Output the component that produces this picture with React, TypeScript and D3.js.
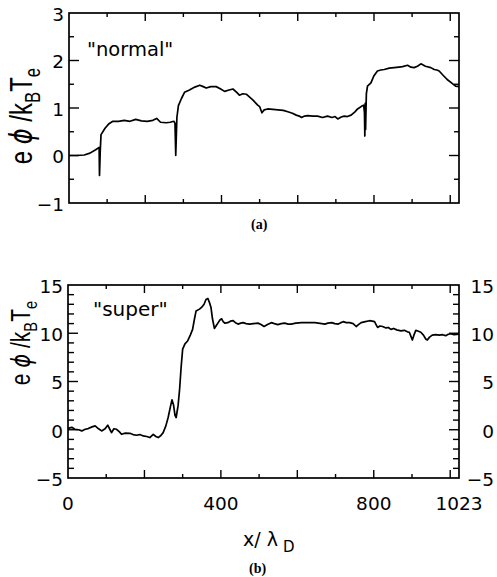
import React from 'react';
import * as d3 from 'd3';

// ---- data ----
const normalX = [0, 20, 40, 55, 70, 79, 80, 82, 84, 95, 105, 115, 130, 145, 160, 175, 190, 205, 220, 230, 240, 255, 265, 275, 278, 280, 283, 287, 295, 303, 316, 330, 343, 352, 360, 372, 386, 398, 408, 420, 430, 440, 447, 456, 465, 482, 495, 500, 506, 512, 521, 535, 548, 562, 574, 586, 596, 604, 610, 618, 626, 640, 652, 665, 678, 690, 698, 705, 714, 722, 730, 740, 750, 757, 768, 773, 775, 776, 777, 778, 780, 783, 792, 800, 809, 818, 827, 840, 853, 865, 875, 888, 897, 905, 914, 923, 935, 949, 958, 965, 971, 980, 992, 1005, 1014, 1023];
const normalY = [0, 0, 0.01, 0.05, 0.12, 0.17, -0.42, 0.1, 0.44, 0.58, 0.67, 0.72, 0.72, 0.74, 0.72, 0.76, 0.73, 0.72, 0.74, 0.78, 0.7, 0.69, 0.7, 0.72, 0.68, 0.0, 0.8, 1.05, 1.2, 1.33, 1.38, 1.44, 1.48, 1.45, 1.42, 1.45, 1.45, 1.4, 1.35, 1.38, 1.4, 1.33, 1.27, 1.3, 1.29, 1.17, 1.06, 1.03, 0.9, 0.96, 0.98, 0.97, 0.96, 0.95, 0.92, 0.89, 0.85, 0.83, 0.8, 0.83, 0.84, 0.83, 0.83, 0.8, 0.83, 0.8, 0.82, 0.77, 0.81, 0.83, 0.82, 0.85, 0.92, 0.98, 1.04, 1.06, 0.9, 0.41, 1.1, 0.55, 1.3, 1.46, 1.53, 1.68, 1.78, 1.8, 1.81, 1.84, 1.85, 1.86, 1.87, 1.9, 1.86, 1.85, 1.88, 1.93, 1.88, 1.85, 1.81, 1.8, 1.78, 1.7, 1.6, 1.52, 1.46, 1.45];

const superX = [0, 10, 18, 28, 36, 45, 53, 63, 71, 80, 88, 97, 104, 110, 114, 120, 127, 134, 140, 150, 162, 170, 179, 188, 197, 206, 214, 223, 230, 236, 243, 249, 256, 262, 268, 272, 276, 280, 283, 288, 292, 296, 300, 306, 313, 320, 326, 331, 335, 344, 350, 356, 361, 366, 370, 374, 378, 383, 388, 393, 398, 402, 406, 410, 418, 425, 432, 438, 445, 452, 458, 466, 475, 485, 497, 505, 513, 522, 532, 540, 549, 558, 567, 576, 584, 596, 611, 625, 635, 646, 655, 664, 672, 680, 690, 698, 707, 714, 720, 728, 737, 746, 754, 760, 767, 778, 789, 796, 802, 806, 810, 816, 823, 832, 838, 845, 852, 860, 871, 880, 888, 893, 897, 901, 905, 910, 917, 923, 930, 936, 940, 946, 953, 962, 971, 980, 988, 995, 1001, 1010, 1023];
const superY = [0.15, 0.25, 0.05, 0.0, -0.12, 0.05, 0.12, 0.3, 0.4, 0.1, -0.12, 0.1, 0.47, 0.0, -0.3, 0.1, 0.05, -0.2, -0.47, -0.35, -0.37, -0.5, -0.57, -0.5, -0.64, -0.7, -0.81, -0.47, -0.7, -0.81, -0.6, -0.3, 0.4, 1.27, 2.4, 3.1, 2.6, 1.5, 1.27, 2.5, 4.2, 6.5, 8.36, 8.9, 9.2, 9.8, 10.4, 11.5, 12.3, 12.5, 12.7, 13.0, 13.5, 13.6, 13.2, 12.7, 11.5, 10.5, 10.8, 11.1, 11.4, 11.5, 11.2, 11.05, 11.1, 11.25, 11.3, 11.1, 10.95, 11.05, 11.1, 11.0, 10.95, 11.0, 11.05, 10.9, 10.7, 10.9, 11.1, 11.0, 10.9, 11.0, 11.05, 10.95, 10.95, 11.05, 11.1, 11.1, 11.1, 11.1, 11.05, 11.0, 10.95, 11.05, 11.1, 11.0, 10.95, 11.1, 11.2, 11.1, 11.1, 11.0, 10.7, 10.9, 11.1, 11.2, 11.3, 11.25, 11.2, 10.9, 10.6, 10.75, 10.7, 10.55, 10.6, 10.4, 10.5, 10.35, 10.25, 10.3, 10.15, 10.1, 9.7, 9.3, 9.8, 10.3, 10.2, 10.1, 9.8, 9.4, 9.3, 9.6, 9.8, 9.85, 9.8, 9.85, 9.75, 9.9, 9.95, 9.85, 9.9];

const topYTickLabels = [3, 2, 1, 0, -1];
const botYTickLabels = [15, 10, 5, 0, -5];
const botXTickLabels = [0, 400, 800, 1023];
const xDomain = [0, 1023];

const SANS = '"DejaVu Sans", sans-serif';
const ARIAL = '"Liberation Sans", Arial, sans-serif';
const SERIF = '"Liberation Serif", "Times New Roman", serif';

const fmt = (v: number) => (v < 0 ? '\u2212' + Math.abs(v) : String(v));

type PanelProps = {
  left: number; right: number; top: number; bottom: number;
  yDomain: [number, number]; yMinor: number; yMajor: number;
  xs: number[]; ys: number[];
  minorLen: number; majorLen: number;
  leftLabels: number[]; rightLabels?: number[]; xLabels?: number[];
};

function Panel(p: PanelProps) {
  const x = d3.scaleLinear().domain(xDomain).range([p.left, p.right]);
  const y = d3.scaleLinear().domain(p.yDomain).range([p.bottom, p.top]);
  const pts = p.xs.map((v, i) => [v, p.ys[i]] as [number, number]);
  const line = d3.line<[number, number]>().x(d => x(d[0])).y(d => y(d[1]));
  const xt = d3.range(100, 1001, 100);
  const yt = d3.range(p.yDomain[0] + p.yMinor, p.yDomain[1] - 1e-6, p.yMinor);
  const isMajorY = (v: number) => Math.abs(v / p.yMajor - Math.round(v / p.yMajor)) < 1e-6;
  return (
    <g>
      <rect x={p.left} y={p.top} width={p.right - p.left} height={p.bottom - p.top}
        fill="none" stroke="#000" strokeWidth={1.7} />
      {xt.map(v => {
        const len = v % 200 === 0 ? 8 : 4;
        return (
          <g key={'x' + v}>
            <line x1={x(v)} x2={x(v)} y1={p.bottom} y2={p.bottom - len} stroke="#000" strokeWidth={1.4} />
            <line x1={x(v)} x2={x(v)} y1={p.top} y2={p.top + len} stroke="#000" strokeWidth={1.4} />
          </g>
        );
      })}
      {yt.map(v => {
        const len = isMajorY(v) ? p.majorLen : p.minorLen;
        return (
          <g key={'y' + v}>
            <line x1={p.left} x2={p.left + len} y1={y(v)} y2={y(v)} stroke="#000" strokeWidth={1.4} />
            <line x1={p.right} x2={p.right - len} y1={y(v)} y2={y(v)} stroke="#000" strokeWidth={1.4} />
          </g>
        );
      })}
      {p.leftLabels.map(v => (
        <text key={'ll' + v} x={p.left - 5} y={y(v)} dy="0.42em" textAnchor="end"
          fontFamily={SANS} fontSize={18.5}>{fmt(v)}</text>
      ))}
      {(p.rightLabels || []).map(v => (
        <text key={'rl' + v} x={494} y={y(v)} dy="0.42em" textAnchor="end"
          fontFamily={SANS} fontSize={18.5}>{fmt(v)}</text>
      ))}
      {(p.xLabels || []).map(v => (
        <text key={'xl' + v} x={x(v)} y={p.bottom + 32} textAnchor="middle"
          fontFamily={SANS} fontSize={18.5}>{fmt(v)}</text>
      ))}
      <path d={line(pts) || ''} fill="none" stroke="#000" strokeWidth={1.7} strokeLinejoin="round" />
    </g>
  );
}

function YLabel({ cx, cy, size }: { cx: number; cy: number; size: number }) {
  const sub = size * 0.7;
  return (
    <text transform={`translate(${cx},${cy}) rotate(-90) scale(1,1.3)`} textAnchor="middle"
      fontFamily={ARIAL} fontSize={size}>
      <tspan>e </tspan>
      <tspan fontFamily={SANS} fontStyle="italic">{'\u03D5'}</tspan>
      <tspan> /k</tspan>
      <tspan fontSize={sub} dy={size * 0.25}>B</tspan>
      <tspan dy={-size * 0.25}>T</tspan>
      <tspan fontSize={sub} dy={size * 0.25}>e</tspan>
    </text>
  );
}

export default function App() {
  return (
    <svg width={497} height={577} style={{ position: 'absolute', left: 0, top: 0, background: '#fff' }}>
      <rect x={0} y={0} width={497} height={577} fill="#fff" />
      <Panel left={69} right={459} top={13} bottom={203} yDomain={[-1, 3]} yMinor={0.5} yMajor={1}
        xs={normalX} ys={normalY} minorLen={5} majorLen={10} leftLabels={topYTickLabels} />
      <text x={87} y={56} fontFamily={SANS} fontSize={19.5}>"normal"</text>
      <YLabel cx={32} cy={116} size={24} />
      <text x={251} y={229} fontFamily={SERIF} fontWeight="bold" fontSize={14}>(a)</text>

      <Panel left={68} right={459} top={285} bottom={478} yDomain={[-5, 15]} yMinor={1} yMajor={5}
        xs={superX} ys={superY} minorLen={6} majorLen={10}
        leftLabels={botYTickLabels} rightLabels={botYTickLabels} xLabels={botXTickLabels} />
      <text x={93} y={316} fontFamily={SANS} fontSize={20}>"super"</text>
      <YLabel cx={30} cy={343} size={21} />
      <text x={243} y={546} fontFamily={SANS} fontSize={19}>
        <tspan>x/ </tspan>
        <tspan>{'\u03BB'}</tspan>
        <tspan fontSize={15} dx={5} dy={6}>D</tspan>
      </text>
      <text x={249} y={573} fontFamily={SERIF} fontWeight="bold" fontSize={14}>(b)</text>
    </svg>
  );
}
